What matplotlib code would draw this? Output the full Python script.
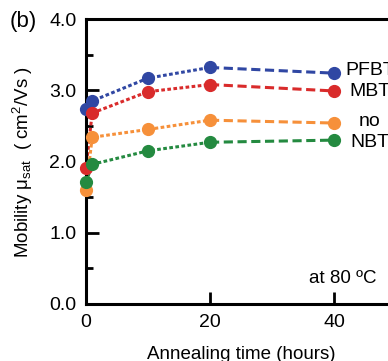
import matplotlib
matplotlib.use("Agg")
import matplotlib.pyplot as plt
from matplotlib.ticker import MultipleLocator

plt.rcParams['font.family'] = ['Liberation Sans', 'DejaVu Sans']
plt.rcParams['mathtext.default'] = 'regular'

# annealing time (hours) and mobility for each additive
hours = [0, 1, 10, 20, 40]
names = ["PFBT", "MBT", "no", "NBT"]
pfbt = [2.74, 2.85, 3.17, 3.32, 3.24]
mbt = [1.91, 2.68, 2.98, 3.08, 2.99]
no_add = [1.60, 2.34, 2.45, 2.58, 2.54]
nbt = [1.71, 1.96, 2.15, 2.27, 2.30]
colors = ["#3047a3", "#d92b2b", "#f6903a", "#248a40"]
label_y = [3.28, 2.98, 2.56, 2.26]

fig = plt.figure(figsize=(3.88, 3.61), dpi=100)
ax = fig.add_axes([86/388, 57/361, 310/388, 285/361])

for vals, c in zip([pfbt, mbt, no_add, nbt], colors):
    # short dashes up to 20 h, longer dashes for the last segment
    ax.plot(hours[:4], vals[:4], color=c, lw=2.2, dashes=(1.2, 0.8), clip_on=False)
    ax.plot(hours[3:], vals[3:], color=c, lw=2.2, dashes=(3, 1.5), clip_on=False)
    ax.plot(hours, vals, 'o', color=c, ms=8.5, clip_on=False, zorder=5)

for name, y in zip(names, label_y):
    ax.text(45.8, y, name, ha='center', va='center', fontsize=14)

ax.text(46.8, 0.36, "at 80 ºC", ha='right', va='center', fontsize=13.5)
fig.text(10/388, 1 - 21/361, "(b)", ha='left', va='center', fontsize=16)

ax.set_xlim(0, 50)
ax.set_ylim(0, 4.0)
ax.set_xticks([0, 20, 40])
ax.yaxis.set_major_locator(MultipleLocator(1.0))
ax.yaxis.set_minor_locator(MultipleLocator(0.5))
ax.set_yticklabels(["%.1f" % v for v in ax.get_yticks()])
ax.tick_params(which='both', direction='in', width=2, labelsize=14, pad=7)
ax.tick_params(which='major', length=9)
ax.tick_params(which='minor', length=5)
for s in ax.spines.values():
    s.set_linewidth(2.2)

ax.set_xlabel("Annealing time (hours)", fontsize=13.5, labelpad=11)
ax.set_ylabel("Mobility μ$_{sat}$  ( cm$^2$/Vs )", fontsize=13.5, labelpad=10)

plt.savefig("out.png", dpi=100)
